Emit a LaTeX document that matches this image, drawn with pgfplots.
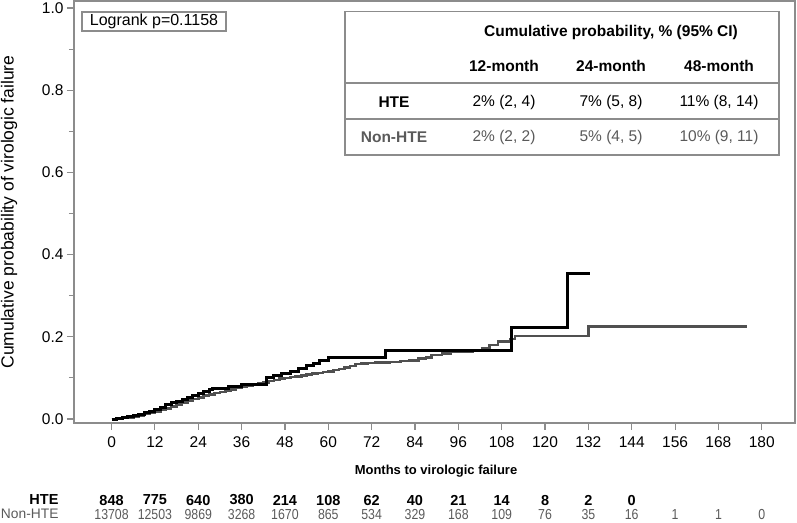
\documentclass[border=0pt]{standalone}
\usepackage{pgfplots}
\pgfplotsset{compat=1.18}
\usepackage{pgfplotstable}
\usepackage{fontspec}
\setmainfont{Liberation Sans}
\usetikzlibrary{calc}
\definecolor{framegray}{HTML}{8C8C8C}
\definecolor{nongray}{HTML}{505050}
\definecolor{txtgray}{HTML}{5A5A5A}
\newcommand{\fs}[1]{\fontsize{#1bp}{#1bp}\selectfont}

\pgfplotstableread{
t p
0 0
1.5 0.002
3 0.004
4.5 0.006
6 0.008
7.5 0.011
9 0.015
10.5 0.019
12 0.023
13.5 0.028
15 0.035
16.5 0.039
18 0.043
19.5 0.048
21 0.053
22.5 0.057
24 0.062
25.5 0.067
27 0.072
28 0.075
32.5 0.078
34 0.080
36 0.083
37.5 0.085
42.9 0.100
44.8 0.105
47.1 0.111
49.4 0.115
51.7 0.123
53.9 0.131
55.8 0.135
57.7 0.142
60 0.150
75.9 0.166
110.8 0.223
126.3 0.353
132.5 0.353
}\hte

\pgfplotstableread{
t p
0 0
1.5 0.001
3 0.002
4.5 0.004
6 0.006
7.5 0.009
9 0.012
10.5 0.015
12 0.018
13.5 0.022
15 0.026
16.5 0.031
18 0.036
19.5 0.040
21 0.045
22.5 0.049
24 0.053
25.5 0.057
27 0.060
28.5 0.063
30 0.066
31.5 0.069
33 0.072
34.5 0.075
36 0.078
37.5 0.081
39 0.084
40.5 0.086
42 0.089
43.5 0.092
45 0.095
46.5 0.098
48 0.100
49.5 0.102
51 0.104
52.5 0.106
54 0.108
55.5 0.110
57 0.112
58.5 0.114
60 0.116
61.5 0.119
63 0.122
64.5 0.125
66 0.129
67.5 0.134
69 0.135
71 0.136
73 0.137
75 0.138
77 0.139
80 0.141
82.5 0.143
85 0.147
87 0.150
88.6 0.156
91.5 0.160
94 0.163
100 0.166
102.5 0.172
104.6 0.180
107 0.188
110.3 0.195
111.7 0.202
132 0.225
175.8 0.225
}\nonhte

\begin{document}
\begin{tikzpicture}
\useasboundingbox (0,0) rectangle (797bp,523bp);
\begin{axis}[
  at={(74bp,100bp)}, anchor=south west,
  width=721bp, height=422bp, scale only axis,
  xmin=-10.4, xmax=189.2, ymin=-0.0097, ymax=1.017,
  xtick={0,12,24,36,48,60,72,84,96,108,120,132,144,156,168,180},
  ytick={0,0.2,0.4,0.6,0.8,1.0},
  minor ytick={0.1,0.3,0.5,0.7,0.9},
  tick pos=left, tick align=outside,
  major tick length=7bp, minor tick length=5bp,
  axis line style={draw=framegray, line width=1.5bp},
  every tick/.style={draw=framegray, line width=1.1bp},
  /pgf/number format/assume math mode=true,
  yticklabel style={/pgf/number format/.cd, fixed, fixed zerofill, precision=1},
  ticklabel style={font=\fs{15.5}, text=black},
  xticklabel style={yshift=-3bp},
  clip=false,
]
\addplot[const plot, draw=nongray, line width=2.6bp] table[x=t, y=p] {\nonhte};
\addplot[const plot, draw=black, line width=3bp] table[x=t, y=p] {\hte};
\coordinate (o) at (axis cs:0,0);
\coordinate (u) at (axis cs:12,0);
\end{axis}

% y label
\node[rotate=90, font=\fs{17.5}] at (9bp,311bp) {Cumulative probability of virologic failure};
% x label
\node[font=\bfseries\fs{13}] at (436bp,52bp) {Months to virologic failure};

% at-risk table
\node[anchor=east, font=\bfseries\fs{14.5}] at (62bp,23bp) {HTE};
\node[anchor=east, font=\fs{13.8}, text=txtgray] at (62bp,9bp) {Non-HTE};
\foreach \v [count=\i from 0] in {848,775,640,380,214,108,62,40,21,14,8,2,0}
  \node[font=\bfseries\fs{14.5}] at ($(o)!\i!(u)+(0,-81bp)$) {\v};
\foreach \v [count=\i from 0] in {13708,12503,9869,3268,1670,865,534,329,168,109,76,35,16,1,1,0}
  \node[font=\fs{14.5}, text=txtgray] at ($(o)!\i!(u)+(0,-95bp)$) {\scalebox{0.85}[1]{\v}};

% logrank box
\draw[framegray, line width=2.2bp, fill=white] (82bp,492bp) rectangle (226bp,511bp);
\node[font=\fs{16}] at (154bp,501.5bp) {Logrank p=0.1158};

% inset table
\draw[framegray, line width=1.5bp] (345bp,368bp) rectangle (779bp,511.3bp);
\draw[framegray, line width=1.2bp] (345bp,440bp) -- (779bp,440bp);
\draw[framegray, line width=1.2bp] (345bp,404bp) -- (779bp,404bp);
\node[font=\bfseries\fs{15.5}] at (611bp,491bp) {Cumulative probability, \% (95\% CI)};
\node[font=\bfseries\fs{15.5}] at (504bp,457bp) {12-month};
\node[font=\bfseries\fs{15.5}] at (611bp,457bp) {24-month};
\node[font=\bfseries\fs{15.5}] at (719bp,457bp) {48-month};
\node[font=\bfseries\fs{15.5}] at (394bp,421bp) {HTE};
\node[font=\bfseries\fs{15.5}, text=txtgray] at (394bp,386bp) {Non-HTE};
\node[font=\fs{15.5}] at (504bp,421bp) {2\% (2, 4)};
\node[font=\fs{15.5}] at (611bp,421bp) {7\% (5, 8)};
\node[font=\fs{15.5}] at (719bp,421bp) {11\% (8, 14)};
\node[font=\fs{15.5}, text=txtgray] at (504bp,386bp) {2\% (2, 2)};
\node[font=\fs{15.5}, text=txtgray] at (611bp,386bp) {5\% (4, 5)};
\node[font=\fs{15.5}, text=txtgray] at (719bp,386bp) {10\% (9, 11)};
\end{tikzpicture}
\end{document}
